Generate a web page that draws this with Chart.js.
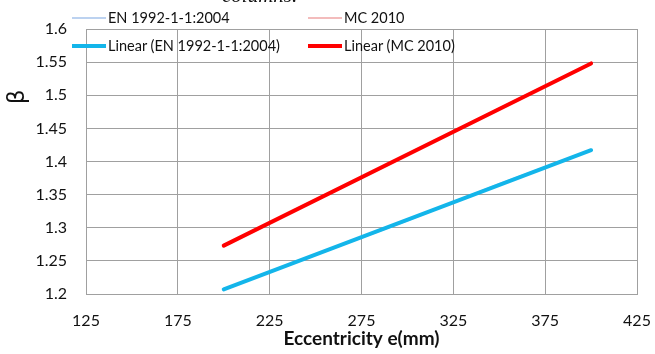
<!DOCTYPE html>
<html>
<head>
<meta charset="utf-8">
<script src="https://cdn.jsdelivr.net/npm/chart.js@4/dist/chart.umd.min.js"></script>
<style>
  html, body { margin: 0; padding: 0; background: #fff; }
  #wrap { position: relative; width: 655px; height: 354px; overflow: hidden; }
  #cap { position: absolute; left: 222px; top: -17px; font: italic 21px "Liberation Serif", serif; color: #111; }
  .lg { position: absolute; font: 14.5px Lato, "Open Sans", sans-serif; color: #111; white-space: nowrap; display: flex; align-items: center; }
  .lg span.sw { display: inline-block; width: 34px; margin-right: 2px; }
</style>
</head>
<body>
<div id="wrap">
  <canvas id="betaChart" width="655" height="354"></canvas>
  <div id="cap">columns.</div>
  <div id="legend"></div>
</div>
<script>
// eccentricity (mm)
const eccentricity = [200, 250, 300, 350, 400];
// beta values
const betaEN = [1.207, 1.259, 1.311, 1.366, 1.417];
const betaMC = [1.273, 1.341, 1.410, 1.480, 1.548];
// trend line ends
const trendX = [200, 400];
const trendEN = [1.207, 1.417];
const trendMC = [1.273, 1.548];

const xTicks = [125, 175, 225, 275, 325, 375, 425];
const yTicks = [1.2, 1.25, 1.3, 1.35, 1.4, 1.45, 1.5, 1.55, 1.6];

const toPts = (xs, ys) => xs.map((x, i) => ({ x: x, y: ys[i] }));
const font = { family: "Lato, 'Open Sans', sans-serif", size: 16 };

// higher order is drawn first, so the trend lines sit on top
const datasets = [
  { label: "EN 1992-1-1:2004", data: toPts(eccentricity, betaEN), borderColor: "#bcd2f0", borderWidth: 2, order: 2 },
  { label: "MC 2010", data: toPts(eccentricity, betaMC), borderColor: "#f3bcbc", borderWidth: 2, order: 2 },
  { label: "Linear (EN 1992-1-1:2004)", data: toPts(trendX, trendEN), borderColor: "#13b5ea", borderWidth: 4, order: 1 },
  { label: "Linear (MC 2010)", data: toPts(trendX, trendMC), borderColor: "#ff0000", borderWidth: 4, order: 1 },
].map((d) => Object.assign(d, { showLine: true, pointRadius: 0, fill: false, borderCapStyle: "round" }));

// legend in two columns, like the original
const legendPos = [[72, 9], [308, 9], [72, 37], [308, 37]];
const legendEl = document.getElementById("legend");
datasets.forEach((d, i) => {
  const item = document.createElement("div");
  item.className = "lg";
  item.style.left = legendPos[i][0] + "px";
  item.style.top = legendPos[i][1] + "px";
  item.innerHTML = '<span class="sw" style="height:' + d.borderWidth + 'px;background:' + d.borderColor + '"></span>' + d.label;
  legendEl.appendChild(item);
});

const betaLabel = {
  id: "betaLabel",
  afterDraw(chart) {
    const c = chart.ctx;
    c.save();
    c.translate(18, 97);
    c.rotate(-Math.PI / 2);
    c.fillStyle = "#111";
    c.font = "23px 'DejaVu Sans', sans-serif";
    c.textAlign = "center";
    c.textBaseline = "middle";
    c.fillText("β", 0, 0);
    c.restore();
  },
};

const ctx = document.getElementById("betaChart").getContext("2d");
new Chart(ctx, {
  type: "scatter",
  data: { datasets: datasets },
  options: {
    responsive: false,
    animation: false,
    layout: { padding: { top: 29, right: 18, left: 0, bottom: 2 } },
    plugins: { legend: { display: false }, tooltip: { enabled: false } },
    scales: {
      x: {
        min: 125,
        max: 425,
        afterBuildTicks: (s) => { s.ticks = xTicks.map((v) => ({ value: v })); },
        afterFit: (s) => { s.height = 58; s.paddingLeft = 0; s.paddingRight = 0; },
        grid: { color: "#a0a0a0", lineWidth: 1, drawTicks: false },
        border: { color: "#a0a0a0" },
        ticks: { color: "#111", font: font, padding: 17, maxRotation: 0 },
        title: { display: true, text: "Eccentricity e(mm)", color: "#111", font: { family: font.family, size: 19, weight: "bold" }, padding: { top: 0, bottom: 2 } },
      },
      y: {
        min: 1.2,
        max: 1.6,
        afterBuildTicks: (s) => { s.ticks = yTicks.map((v) => ({ value: v })); },
        afterFit: (s) => { s.width = 86; s.paddingTop = 0; s.paddingBottom = 0; },
        grid: { color: "#a0a0a0", lineWidth: 1, drawTicks: false },
        border: { color: "#a0a0a0" },
        ticks: { color: "#111", font: font, padding: 19, callback: (v) => String(+v.toFixed(2)) },
      },
    },
  },
  plugins: [betaLabel],
});
</script>
</body>
</html>
